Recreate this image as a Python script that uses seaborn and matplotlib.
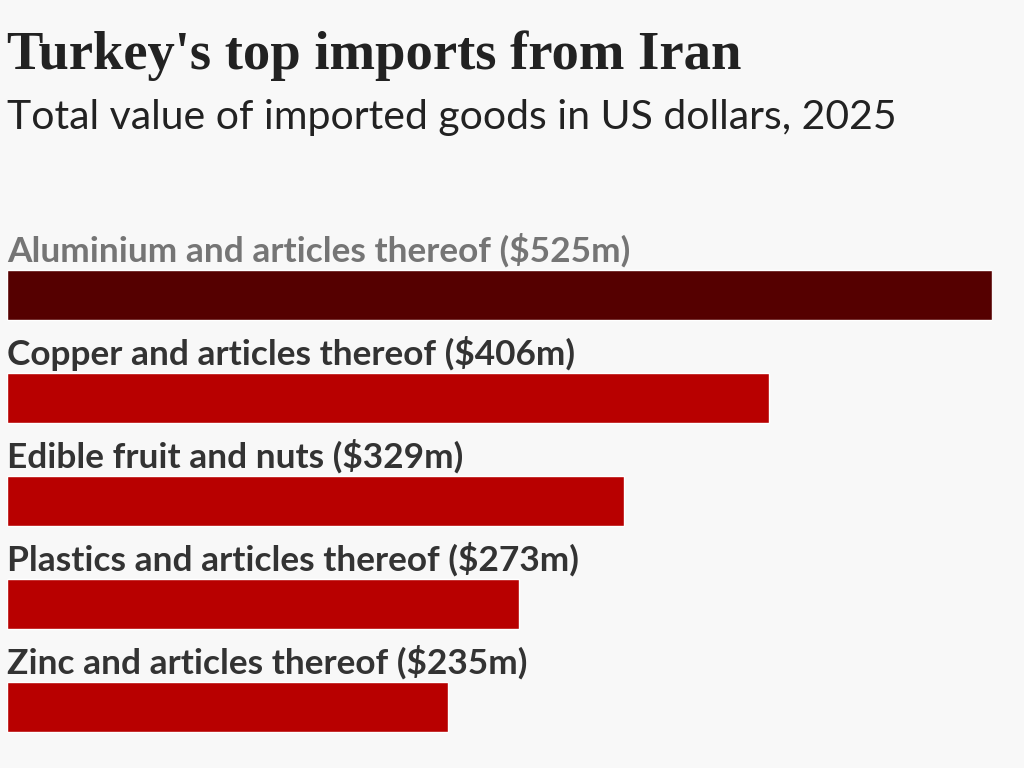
import matplotlib
matplotlib.use("Agg")
import matplotlib.pyplot as plt
import seaborn as sns
import pandas as pd

categories = [
    "Aluminium and articles thereof",
    "Copper and articles thereof",
    "Edible fruit and nuts",
    "Plastics and articles thereof",
    "Zinc and articles thereof",
]
values = [525, 406, 329, 273, 235]
labels = ["$525m", "$406m", "$329m", "$273m", "$235m"]
bar_colors = ["#550000", "#b80000", "#b80000", "#b80000", "#b80000"]
label_colors = ["#757575", "#333333", "#333333", "#333333", "#333333"]

title = "Turkey's top imports from Iran"
subtitle = "Total value of imported goods in US dollars, 2025"

bg = "#f8f8f8"
sns.set_theme(style="white")
plt.rcParams["font.family"] = ["Lato", "DejaVu Sans"]

df = pd.DataFrame({"category": categories, "value": values})

fig = plt.figure(figsize=(10.24, 7.68), dpi=100, facecolor=bg)
ax = fig.add_axes([7 / 1024, 1 - 758.5 / 768, 985 / 1024, 515 / 768])
ax.set_facecolor(bg)

sns.barplot(data=df, x="value", y="category", hue="category",
            palette=bar_colors, legend=False, width=50 / 103, ax=ax,
            saturation=1)

ax.set_xlim(0, 525)
ax.set_ylim(4.5, -0.5)
ax.set_xlabel("")
ax.set_ylabel("")
ax.set_xticks([])
ax.set_yticks([])
for s in ax.spines.values():
    s.set_visible(False)

for i, (c, lab) in enumerate(zip(categories, labels)):
    ax.text(0, i - 0.5 * 50 / 103 - 8 / 103, f"{c} ({lab})".replace("$", r"\$"),
            ha="left", va="baseline", fontsize=25.4, fontweight="bold",
            color=label_colors[i], family=["Lato", "DejaVu Sans"])

fig.text(7 / 1024, 1 - 69 / 768, title, ha="left", va="baseline",
         fontsize=39.3, fontweight="bold", color="#222222",
         family=["Liberation Serif", "DejaVu Serif"])
fig.text(7 / 1024, 1 - 129 / 768, subtitle, ha="left", va="baseline",
         fontsize=29.5, color="#222222", family=["Lato", "DejaVu Sans"])

fig.savefig("out.png", dpi=100, facecolor=bg)
